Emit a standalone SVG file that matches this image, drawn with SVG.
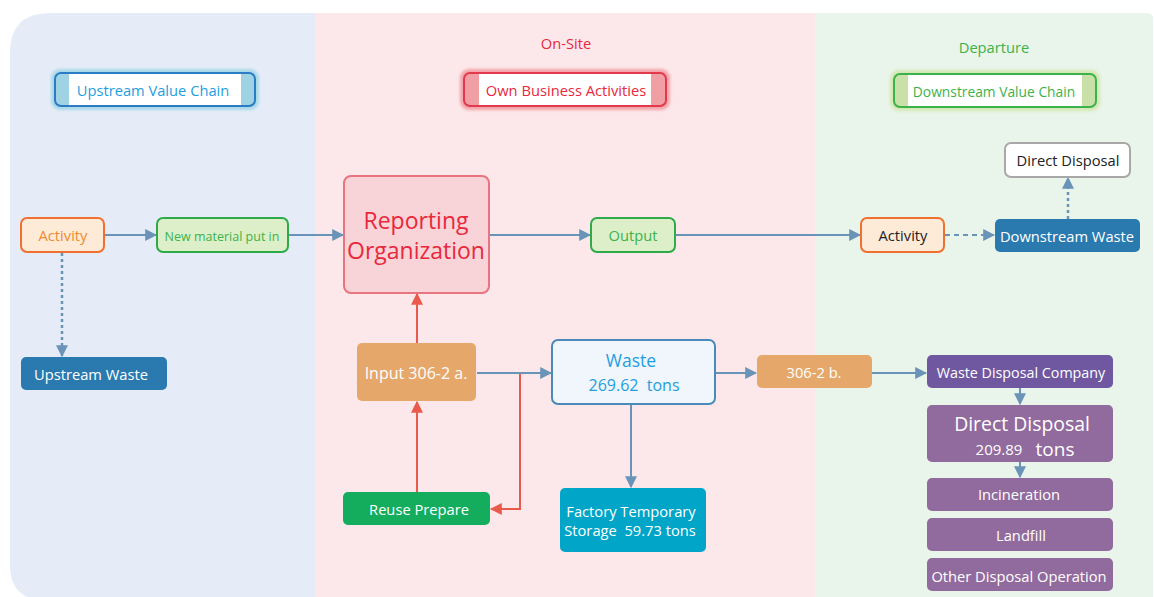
<svg xmlns="http://www.w3.org/2000/svg" width="1154" height="597" viewBox="0 0 1154 597" font-size="14.7">
  <defs>
    <style>
      text { font-family: "Open Sans", "Noto Sans", "Liberation Sans", sans-serif; text-anchor: middle; dominant-baseline: central; }
      .conn { fill: none; stroke: #6a93b8; stroke-width: 2; }
      .red { fill: none; stroke: #ea5a4c; stroke-width: 2; }
      .dot { stroke-dasharray: 3 3; stroke-width: 2.5; }
      .dash { stroke-dasharray: 5 4; }
      .wt { fill: #ffffff; }
      .purple { fill: #926b9e; }
    </style>
    <marker id="ahb" viewBox="0 0 10 10" refX="9" refY="5" markerWidth="12" markerHeight="12" orient="auto" markerUnits="userSpaceOnUse">
      <path d="M0,0 L10,5 L0,10 z" fill="#6a93b8"/>
    </marker>
    <marker id="ahr" viewBox="0 0 10 10" refX="9" refY="5" markerWidth="12" markerHeight="12" orient="auto" markerUnits="userSpaceOnUse">
      <path d="M0,0 L10,5 L0,10 z" fill="#ea5a4c"/>
    </marker>
    <filter id="glow" x="-10%" y="-40%" width="120%" height="180%">
      <feGaussianBlur stdDeviation="1.8"/>
    </filter>
    <clipPath id="bg">
      <path d="M50,13 H1147 Q1153,13 1153,19 V600 H45 Q10,600 10,565 V53 Q10,13 50,13 Z"/>
    </clipPath>
  </defs>

  <!-- background bands -->
  <g id="bands" clip-path="url(#bg)">
    <rect x="0" y="0" width="315" height="600" fill="#e6ecf7"/>
    <rect x="315" y="0" width="500" height="600" fill="#fce8ea"/>
    <rect x="815" y="0" width="340" height="600" fill="#e9f4ea"/>
  </g>

  <!-- band titles -->
  <text x="566" y="43" fill="#e8283c">On-Site</text>
  <text x="994" y="47" fill="#3cb34a">Departure</text>

  <!-- header badges -->
  <g id="hdr-upstream">
    <rect x="51" y="69" width="208" height="41" rx="9" fill="#a8d8e8" filter="url(#glow)"/>
    <rect x="55" y="73" width="200" height="33" rx="6" fill="#9fd3e3" stroke="#2b7cc5" stroke-width="2"/>
    <rect x="69" y="74" width="172" height="31" fill="#ffffff"/>
    <text x="153" y="90" fill="#1e9ee0">Upstream Value Chain</text>
  </g>
  <g id="hdr-own">
    <rect x="460" y="69" width="210" height="41" rx="9" fill="#f2a2a8" filter="url(#glow)"/>
    <rect x="464" y="73" width="202" height="33" rx="6" fill="#f0a0a5" stroke="#e23a4c" stroke-width="2"/>
    <rect x="479" y="74" width="172" height="31" fill="#ffffff"/>
    <text x="566" y="90" fill="#e8283c">Own Business Activities</text>
  </g>
  <g id="hdr-downstream">
    <rect x="890" y="70" width="210" height="41" rx="9" fill="#d3e8b3" filter="url(#glow)"/>
    <rect x="894" y="74" width="202" height="33" rx="6" fill="#c9e0a8" stroke="#3cb34a" stroke-width="2"/>
    <rect x="908" y="75" width="174" height="31" fill="#ffffff"/>
    <text x="994" y="91" font-size="13.8" fill="#3cb34a">Downstream Value Chain</text>
  </g>

  <!-- connectors -->
  <g id="connectors">
    <path class="conn" d="M105,235 H156" marker-end="url(#ahb)"/>
    <path class="conn" d="M289,235 H343" marker-end="url(#ahb)"/>
    <path class="conn" d="M490,235 H590" marker-end="url(#ahb)"/>
    <path class="conn" d="M676,235 H860" marker-end="url(#ahb)"/>
    <path class="conn dash" d="M945,235 H994" marker-end="url(#ahb)"/>
    <path class="conn dot" d="M1068,219 V178" marker-end="url(#ahb)"/>
    <path class="conn dot" d="M62,253 V356" marker-end="url(#ahb)"/>
    <path class="red" d="M417,343 V294" marker-end="url(#ahr)"/>
    <path class="red" d="M417,492 V402" marker-end="url(#ahr)"/>
    <path class="red" d="M520,373 V509 H491" marker-end="url(#ahr)"/>
    <path class="conn" d="M477,373 H551" marker-end="url(#ahb)"/>
    <path class="conn" d="M631,404 V487" marker-end="url(#ahb)"/>
    <path class="conn" d="M716,373 H756" marker-end="url(#ahb)"/>
    <path class="conn" d="M872,373 H926" marker-end="url(#ahb)"/>
    <path class="conn" d="M1020,388 V404" marker-end="url(#ahb)"/>
    <path class="conn" d="M1020,462 V477" marker-end="url(#ahb)"/>
  </g>

  <!-- nodes -->
  <g id="activity-up">
    <rect x="21" y="218" width="83" height="34" rx="6" fill="#fdebd8" stroke="#f07030" stroke-width="2"/>
    <text x="63" y="235" fill="#f08a30">Activity</text>
  </g>
  <g id="new-material">
    <rect x="157" y="218" width="131" height="34" rx="6" fill="#dcefc9" stroke="#2eaa48" stroke-width="2"/>
    <text x="222" y="236" font-size="12.5" fill="#3cb34a">New material put in</text>
  </g>
  <g id="reporting-org">
    <rect x="344" y="176" width="145" height="117" rx="7" fill="#f8d3d8" stroke="#e87480" stroke-width="2"/>
    <text x="416" y="220" font-size="23" fill="#e8283c">Reporting</text>
    <text x="416" y="250" font-size="23" fill="#e8283c">Organization</text>
  </g>
  <g id="output">
    <rect x="591" y="218" width="84" height="34" rx="6" fill="#dcefc9" stroke="#2eaa48" stroke-width="2"/>
    <text x="633" y="235" fill="#3cb34a">Output</text>
  </g>
  <g id="activity-down">
    <rect x="861" y="218" width="83" height="34" rx="6" fill="#fdebd8" stroke="#f07030" stroke-width="2"/>
    <text x="903" y="235" fill="#222222">Activity</text>
  </g>
  <g id="downstream-waste">
    <rect x="995" y="219" width="145" height="33" rx="5" fill="#2a7ab0"/>
    <text x="1067" y="236" class="wt">Downstream Waste</text>
  </g>
  <g id="direct-disposal-top">
    <rect x="1005" y="143" width="125" height="34" rx="6" fill="#ffffff" stroke="#a8a8a8" stroke-width="2"/>
    <text x="1068" y="160" fill="#222222">Direct Disposal</text>
  </g>
  <g id="upstream-waste">
    <rect x="21" y="357" width="146" height="33" rx="5" fill="#2a7ab0"/>
    <text x="91" y="374" class="wt">Upstream Waste</text>
  </g>
  <g id="input-a">
    <rect x="357" y="343" width="119" height="58" rx="5" fill="#e5a86a"/>
    <text x="416" y="373" font-size="16" class="wt">Input 306-2 a.</text>
  </g>
  <g id="reuse-prepare">
    <rect x="343" y="492" width="147" height="33" rx="5" fill="#14ad5e"/>
    <text x="419" y="509" class="wt">Reuse Prepare</text>
  </g>
  <g id="waste">
    <rect x="552" y="340" width="163" height="64" rx="6" fill="#f0f6fb" stroke="#4a8ab8" stroke-width="2"/>
    <text x="631" y="360" font-size="17.5" fill="#1e9ee0">Waste</text>
    <text x="634" y="385" font-size="16" fill="#1e9ee0" xml:space="preserve">269.62  tons</text>
  </g>
  <g id="factory-storage">
    <rect x="560" y="488" width="146" height="64" rx="5" fill="#00a5c8"/>
    <text x="631" y="511" class="wt">Factory Temporary</text>
    <text x="630" y="530" class="wt" xml:space="preserve">Storage  59.73 tons</text>
  </g>
  <g id="b-306-2">
    <rect x="757" y="355" width="115" height="33" rx="5" fill="#e5a86a"/>
    <text x="814" y="372" class="wt">306-2 b.</text>
  </g>
  <g id="disposal-company">
    <rect x="927" y="355" width="186" height="33" rx="5" fill="#6f58a0"/>
    <text x="1021" y="372" font-size="14.3" class="wt">Waste Disposal Company</text>
  </g>
  <g id="direct-disposal">
    <rect x="927" y="405" width="186" height="57" rx="5" class="purple"/>
    <text x="1022" y="423" font-size="19.4" class="wt">Direct Disposal</text>
    <text x="999" y="449" font-size="15" class="wt">209.89</text>
    <text x="1055" y="449" font-size="19" class="wt">tons</text>
  </g>
  <g id="incineration">
    <rect x="927" y="478" width="186" height="33" rx="5" class="purple"/>
    <text x="1019" y="494" class="wt">Incineration</text>
  </g>
  <g id="landfill">
    <rect x="927" y="518" width="186" height="33" rx="5" class="purple"/>
    <text x="1021" y="535" class="wt">Landfill</text>
  </g>
  <g id="other-disposal">
    <rect x="927" y="558" width="186" height="33" rx="5" class="purple"/>
    <text x="1019" y="576" class="wt">Other Disposal Operation</text>
  </g>
</svg>
